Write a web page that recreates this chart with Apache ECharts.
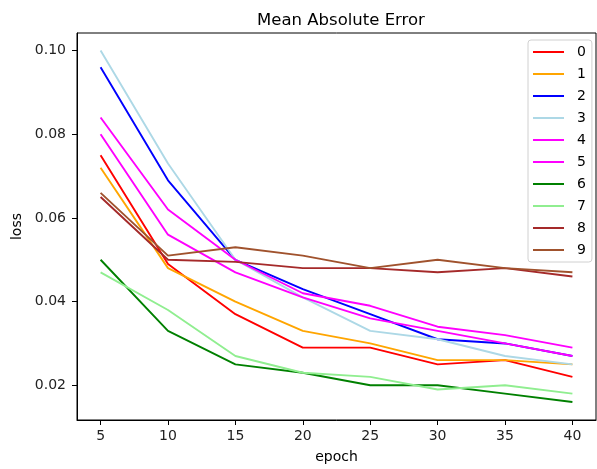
<!DOCTYPE html>
<html>
<head>
<meta charset="utf-8">
<title>Mean Absolute Error</title>
<script src="https://cdn.jsdelivr.net/npm/echarts@6/dist/echarts.min.js"></script>
<style>
  html, body { margin: 0; padding: 0; background: #fff; }
  #main { width: 597px; height: 469px; }
</style>
</head>
<body>
<div id="main"></div>
<script type="text/javascript">
// epochs on the x axis
var epochs = [5, 10, 15, 20, 25, 30, 35, 40];
var xTicks = [5, 10, 15, 20, 25, 30, 35, 40];
var yTicks = [0.02, 0.04, 0.06, 0.08, 0.10];

var names = ['0', '1', '2', '3', '4', '5', '6', '7', '8', '9'];
var colors = ['#ff0000', '#ffa500', '#0000ff', '#add8e6', '#ff00ff',
              '#ff00ff', '#008000', '#90ee90', '#a52a2a', '#a0522d'];

// loss per run
var loss0 = [0.075, 0.049, 0.037, 0.029, 0.029, 0.025, 0.026, 0.022];
var loss1 = [0.072, 0.048, 0.040, 0.033, 0.030, 0.026, 0.026, 0.025];
var loss2 = [0.096, 0.069, 0.050, 0.043, 0.037, 0.031, 0.030, 0.027];
var loss3 = [0.100, 0.073, 0.050, 0.041, 0.033, 0.031, 0.027, 0.025];
var loss4 = [0.084, 0.062, 0.050, 0.042, 0.039, 0.034, 0.032, 0.029];
var loss5 = [0.080, 0.056, 0.047, 0.041, 0.036, 0.033, 0.030, 0.027];
var loss6 = [0.050, 0.033, 0.025, 0.023, 0.020, 0.020, 0.018, 0.016];
var loss7 = [0.047, 0.038, 0.027, 0.023, 0.022, 0.019, 0.020, 0.018];
var loss8 = [0.065, 0.050, 0.0495, 0.048, 0.048, 0.047, 0.048, 0.046];
var loss9 = [0.066, 0.051, 0.053, 0.051, 0.048, 0.050, 0.048, 0.047];

var allLoss = [loss0, loss1, loss2, loss3, loss4, loss5, loss6, loss7, loss8, loss9];

var font = 'DejaVu Sans, sans-serif';

var series = [];
for (var i = 0; i < allLoss.length; i++) {
    var pts = [];
    for (var j = 0; j < epochs.length; j++) {
        pts.push([epochs[j], allLoss[i][j]]);
    }
    series.push({
        name: names[i],
        type: 'line',
        data: pts,
        symbol: 'none',
        lineStyle: { width: 1.9, color: colors[i] },
        itemStyle: { color: colors[i] },
        animation: false
    });
}

var myChart = echarts.init(document.getElementById('main'));

var option = {
    animation: false,
    textStyle: { fontFamily: font },
    title: {
        text: 'Mean Absolute Error',
        left: 336,
        textAlign: 'center',
        top: 7,
        textStyle: { fontFamily: font, fontSize: 16.5, fontWeight: 'normal', color: '#000' }
    },
    legend: {
        data: names,
        orient: 'vertical',
        left: 528,
        top: 40,
        padding: [5, 6, 5, 5],
        icon: 'rect',
        itemWidth: 31,
        itemHeight: 2,
        itemGap: 8,
        borderColor: '#d0d0d0',
        borderWidth: 1,
        borderRadius: 3,
        backgroundColor: 'rgba(255,255,255,0.8)',
        textStyle: { fontFamily: font, fontSize: 14, lineHeight: 14, color: '#000', padding: [0, 0, 0, 8] }
    },
    grid: {
        left: 77,
        right: 1,
        top: 33,
        bottom: 49,
        show: true,
        borderColor: '#000',
        borderWidth: 1,
        containLabel: false
    },
    xAxis: {
        type: 'value',
        min: 3.25,
        max: 41.75,
        name: 'epoch',
        nameLocation: 'middle',
        nameGap: 30,
        nameTextStyle: { fontFamily: font, fontSize: 14, color: '#000' },
        axisLine: { show: true, lineStyle: { color: '#000', width: 1 } },
        axisTick: { show: true, inside: false, length: 5, customValues: xTicks, lineStyle: { color: '#000' } },
        axisLabel: { customValues: xTicks, margin: 9, fontFamily: font, fontSize: 14, color: '#222' },
        splitLine: { show: false }
    },
    yAxis: {
        type: 'value',
        min: 0.0117,
        max: 0.1042,
        name: 'loss',
        nameLocation: 'middle',
        nameGap: 53,
        nameRotate: 90,
        nameTextStyle: { fontFamily: font, fontSize: 14, color: '#000' },
        axisLine: { show: true, lineStyle: { color: '#000', width: 1 } },
        axisTick: { show: true, inside: false, length: 5, customValues: yTicks, lineStyle: { color: '#000' } },
        axisLabel: {
            customValues: yTicks,
            margin: 11,
            fontFamily: font,
            fontSize: 14,
            color: '#222',
            formatter: function (v) { return v.toFixed(2); }
        },
        splitLine: { show: false }
    },
    series: series
};

myChart.setOption(option);
</script>
</body>
</html>
